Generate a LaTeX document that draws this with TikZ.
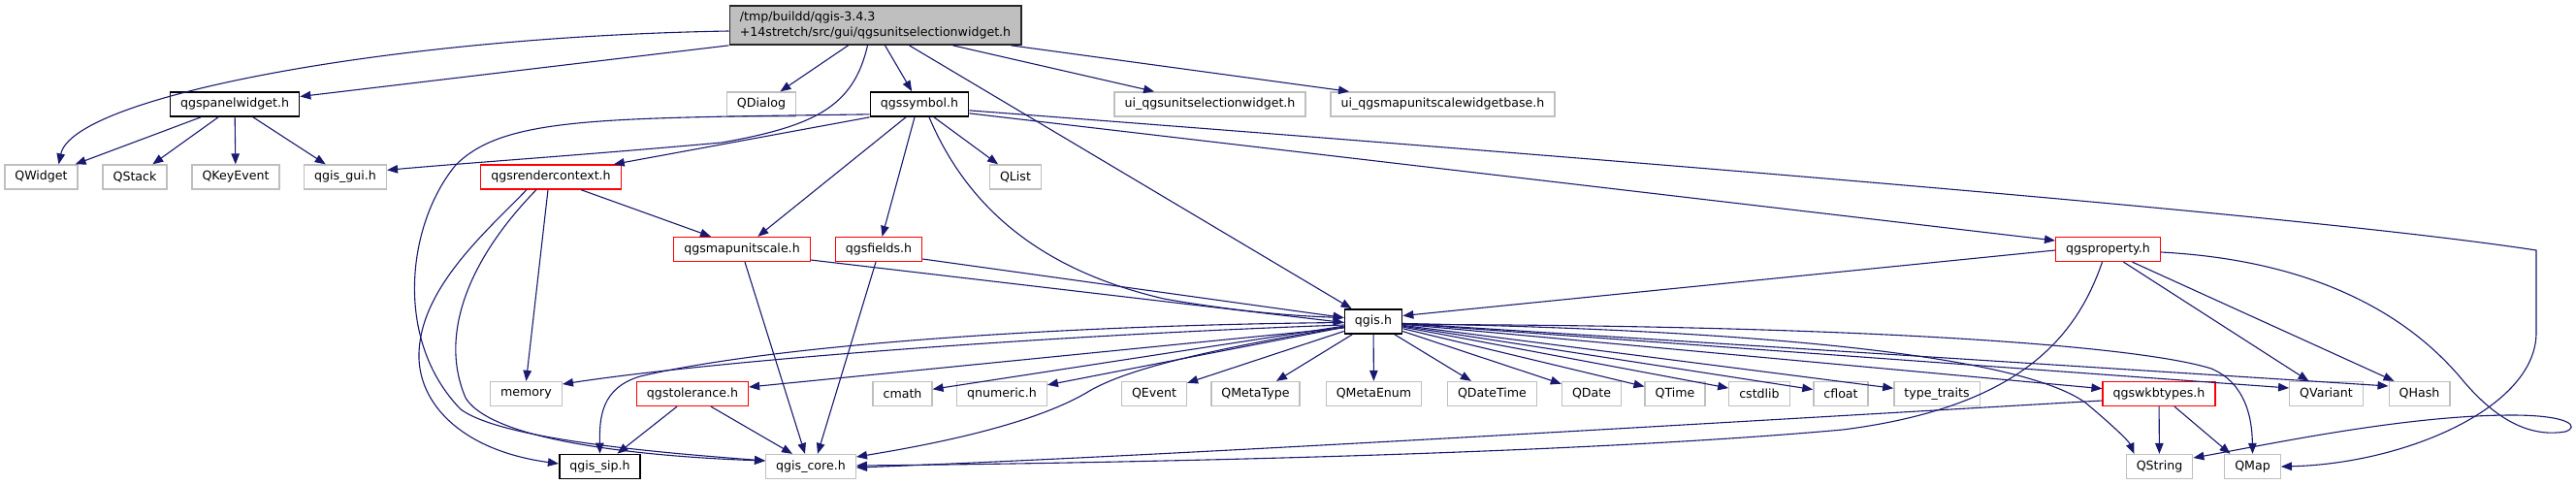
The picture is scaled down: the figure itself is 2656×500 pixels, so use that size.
\documentclass[tikz,border=0pt]{standalone}
\usepackage{fontspec}
\setmainfont{DejaVu Sans}
\usepackage{tikz}
\usetikzlibrary{arrows.meta}

\definecolor{edgeblue}{RGB}{25,25,112}
\definecolor{extgray}{RGB}{191,191,191}

\begin{document}
\begin{tikzpicture}[
  x=1pt, y=-1pt,
  font=\fontsize{12.6}{15}\selectfont,
  every node/.style={align=center},
  %% ─── node styles ────────────────────────────────────────────────
  filebox/.style={
    draw, fill=white, minimum height=25pt,
    inner xsep=10.5pt, inner ysep=0pt, line width=1.3pt},
  rootfile/.style={
    filebox, draw=black!85, fill=extgray, minimum height=40pt,
    align=left, line width=1.7pt, font=\fontsize{12.6}{16}\selectfont},
  docfile/.style={filebox, draw=black, line width=1.7pt},
  partfile/.style={filebox, draw=red},
  extfile/.style={filebox, draw=extgray},
  incl/.style={-{Triangle[length=11pt,width=8.5pt]}, color=edgeblue, line width=1.1pt}
]

  \path[use as bounding box, fill=white] (0,0) rectangle (2656,500);

  %% ─── 1. root file ───────────────────────────────────────────────
  \node[rootfile] (root) at (902.5,26) {/tmp/buildd/qgis-3.4.3\\+14stretch/src/gui/qgsunitselectionwidget.h};

  %% ─── 2. first level includes ────────────────────────────────────
  \node[docfile] (qgspanelwidget) at (242,107.5) {qgspanelwidget.h};
  \node[extfile] (QDialog) at (785,107.5) {QDialog};
  \node[docfile] (qgssymbol) at (948,107.5) {qgssymbol.h};
  \node[extfile] (uiunitsel) at (1247.5,107.5) {ui\_qgsunitselectionwidget.h};
  \node[extfile] (uimapunit) at (1487.5,107.5) {ui\_qgsmapunitscalewidgetbase.h};

  %% ─── 3. Qt widgets, gui, render context ─────────────────────────
  \node[extfile] (QWidget) at (42.5,182.5) {QWidget};
  \node[extfile] (QStack) at (139,182.5) {QStack};
  \node[extfile] (QKeyEvent) at (243,182.5) {QKeyEvent};
  \node[extfile] (qgisgui) at (356,182.5) {qgis\_gui.h};
  \node[partfile] (qgsrendercontext) at (568,182.5) {qgsrendercontext.h};
  \node[extfile] (QList) at (1047,182.5) {QList};

  \node[partfile] (qgsmapunitscale) at (765,257) {qgsmapunitscale.h};
  \node[partfile] (qgsfields) at (906,257) {qgsfields.h};
  \node[partfile] (qgsproperty) at (2173.5,257) {qgsproperty.h};

  \node[docfile] (qgis) at (1416,331.5) {qgis.h};

  %% ─── 4. leaf headers ────────────────────────────────────────────
  \node[extfile] (memory) at (542.5,406) {memory};
  \node[partfile] (qgstolerance) at (714,406) {qgstolerance.h};
  \foreach \n/\x/\t in {cmath/930.5/cmath, qnumeric/1033/qnumeric.h, QEvent/1190/QEvent,
      QMetaType/1294.5/QMetaType, QMetaEnum/1416.5/QMetaEnum, QDateTime/1538.5/QDateTime,
      QDate/1641/QDate, QTime/1727/QTime, cstdlib/1814/cstdlib, cfloat/1898/cfloat,
      typetraits/1997/type\_traits, QVariant/2398.5/QVariant, QHash/2494.5/QHash} {
    \node[extfile] (\n) at (\x,406) {\t};
  }
  \node[partfile] (qgswkbtypes) at (2226,406) {qgswkbtypes.h};

  \node[docfile] (qgissip) at (618.5,481) {qgis\_sip.h};
  \node[extfile] (qgiscore) at (836,481) {qgis\_core.h};
  \node[extfile] (QString) at (2226.5,481) {QString};
  \node[extfile] (QMap) at (2322.5,481) {QMap};

  %% ─── 5. include edges ───────────────────────────────────────────
  % root file
  \draw[incl] ([yshift=-6pt]root.west) .. controls (400,38) and (75,100) .. ([xshift=18pt]QWidget.north);
  \draw[incl] (root.south west) -- (qgspanelwidget);
  \draw[incl] ([xshift=-28pt]root.south) -- (QDialog);
  \draw[incl] ([xshift=10pt]root.south) -- (qgssymbol);
  \draw[incl] ([xshift=-8pt]root.south) .. controls (880,110) and (840,130) .. (744,147)
    .. controls (600,160) and (480,168) .. ([yshift=-6pt]qgisgui.north east);
  \draw[incl] ([xshift=35pt]root.south) -- (qgis);
  \draw[incl] ([xshift=80pt]root.south) -- (uiunitsel);
  \draw[incl] ([xshift=140pt]root.south) -- (uimapunit);

  % qgspanelwidget.h
  \draw[incl] ([xshift=-35pt]qgspanelwidget.south) -- (QWidget);
  \draw[incl] ([xshift=-17pt]qgspanelwidget.south) -- (QStack);
  \draw[incl] (qgspanelwidget) -- (QKeyEvent);
  \draw[incl] ([xshift=19pt]qgspanelwidget.south) -- (qgisgui);

  % qgssymbol.h
  \draw[incl] (qgssymbol.south west) -- ([xshift=-8pt]qgsrendercontext.north east);
  \draw[incl] ([yshift=3pt]qgssymbol.south west) .. controls (620,122) and (520,120) .. (470,170)
    .. controls (420,230) and (405,350) .. (475,422)
    .. controls (520,455) and (700,468) .. ([yshift=6pt]qgiscore.west);
  \draw[incl] ([xshift=-14pt]qgssymbol.south) -- (qgsmapunitscale);
  \draw[incl] ([xshift=-5pt]qgssymbol.south) -- (qgsfields);
  \draw[incl] ([xshift=15pt]qgssymbol.south) -- (QList);
  \draw[incl] ([xshift=10pt]qgssymbol.south) .. controls (1000,220) and (1080,280) .. (1200,308)
    .. controls (1280,322) and (1340,326) .. ([yshift=4pt]qgis.west);
  \draw[incl] ([yshift=4pt]qgssymbol.south east) -- ([yshift=9pt]qgsproperty.west);
  \draw[incl] ([yshift=7pt]qgssymbol.south east) .. controls (1800,175) and (2400,225) .. (2615,258)
    -- (2615,343) .. controls (2615,420) and (2480,478) .. (QMap.east);

  % qgsrendercontext.h
  \draw[incl] ([xshift=31pt]qgsrendercontext.south) -- ([xshift=-32pt]qgsmapunitscale.north);
  \draw[incl] ([xshift=-3pt]qgsrendercontext.south) -- (memory.north);
  \draw[incl] ([xshift=-25pt]qgsrendercontext.south) .. controls (500,240) and (430,300) .. (432,370)
    .. controls (434,420) and (480,465) .. ([yshift=3pt]qgissip.west);
  \draw[incl] ([xshift=-15pt]qgsrendercontext.south) .. controls (490,260) and (450,340) .. (480,410)
    .. controls (510,460) and (700,472) .. ([yshift=6pt]qgiscore.west);

  % qgsmapunitscale.h, qgsfields.h
  \draw[incl] ([yshift=-11pt]qgsmapunitscale.east) -- ([yshift=-1pt]qgis.west);
  \draw[incl] ([xshift=3pt]qgsmapunitscale.south) -- ([xshift=-6pt]qgiscore.north);
  \draw[incl] ([yshift=-10pt]qgsfields.east) -- ([yshift=4pt]qgis.west);
  \draw[incl] ([xshift=-3pt]qgsfields.south) -- ([xshift=7pt]qgiscore.north);

  % qgsproperty.h
  \draw[incl] ([yshift=-1pt]qgsproperty.west) -- ([yshift=6pt]qgis.east);
  \draw[incl] ([xshift=-6pt]qgsproperty.south) .. controls (2140,350) and (2080,420) .. (1900,443)
    .. controls (1600,470) and (1100,478) .. ([yshift=1pt]qgiscore.east);
  \draw[incl] ([xshift=16pt]qgsproperty.south) -- ([xshift=-18pt]QVariant.north);
  \draw[incl] ([xshift=25pt]qgsproperty.south) -- ([xshift=-26pt]QHash.north);
  \draw[incl] ([yshift=-3pt]qgsproperty.east) .. controls (2380,268) and (2480,320) .. (2540,393)
    .. controls (2580,440) and (2615,450) .. (2645,445)
    .. controls (2660,440) and (2650,428) .. (2590,428)
    .. controls (2480,428) and (2340,458) .. ([yshift=9pt]QString.east);

  % qgis.h
  \foreach \t in {cmath, qnumeric, QEvent, QMetaType, QMetaEnum, QDateTime, QDate,
      QTime, cstdlib, cfloat, typetraits, qgswkbtypes} {
    \draw[incl] (qgis) -- (\t);
  }
  \draw[incl] (qgis) -- ([yshift=6pt]QVariant.west);
  \draw[incl] (qgis) -- ([yshift=8pt]QHash.west);
  \draw[incl] ([yshift=-3.5pt]qgis.west) .. controls (1100,345) and (750,370) .. ([yshift=10pt]memory.east);
  \draw[incl] ([yshift=-6.5pt]qgis.west) -- ([yshift=7pt]qgstolerance.east);
  \draw[incl] ([yshift=-1pt]qgis.west) .. controls (1100,335) and (800,355) .. (660,388)
    .. controls (620,400) and (618,430) .. (qgissip.north);
  \draw[incl] ([yshift=-5.5pt]qgis.west) .. controls (1250,360) and (1160,380) .. (1120,405)
    .. controls (1060,440) and (950,460) .. ([yshift=10pt]qgiscore.east);
  \draw[incl] ([yshift=-2pt]qgis.east) .. controls (1800,340) and (2080,365) .. (2150,415)
    .. controls (2180,440) and (2195,455) .. ([xshift=-26pt]QString.north);
  \draw[incl] ([yshift=-3pt]qgis.east) .. controls (1900,335) and (2200,355) .. (2280,380)
    .. controls (2315,395) and (2322,430) .. (QMap.north);

  % qgstolerance.h, qgswkbtypes.h
  \draw[incl] ([xshift=-16pt]qgstolerance.south) -- ([xshift=18pt]qgissip.north);
  \draw[incl] ([xshift=19pt]qgstolerance.south) -- ([xshift=-19pt]qgiscore.north);
  \draw[incl] ([yshift=-7pt]qgswkbtypes.west) .. controls (1700,440) and (1200,470) .. ([yshift=-1pt]qgiscore.east);
  \draw[incl] (qgswkbtypes) -- (QString);
  \draw[incl] ([xshift=16pt]qgswkbtypes.south) -- ([xshift=-23pt]QMap.north);

\end{tikzpicture}
\end{document}
